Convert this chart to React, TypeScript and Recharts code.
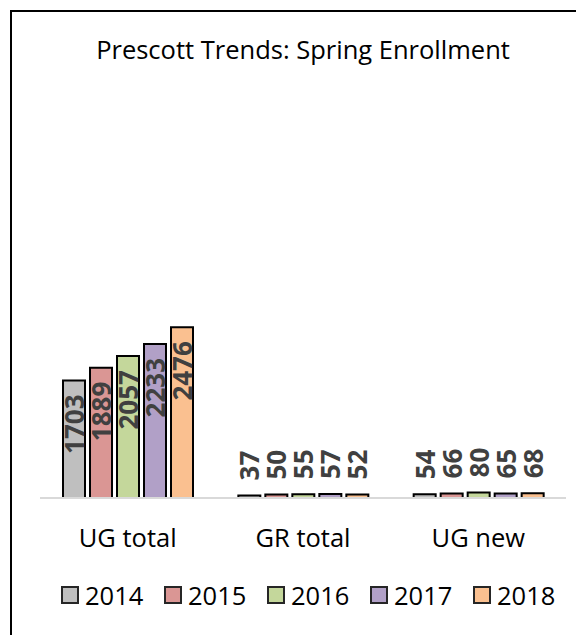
import { BarChart, Bar, XAxis, YAxis, LabelList } from "recharts";

const categories = ["UG total", "GR total", "UG new"];
const years = ["2014", "2015", "2016", "2017", "2018"];
const colors = ["#BFBFBF", "#DA9694", "#C4D79B", "#B1A0C7", "#FAC090"];

const v2014 = [1703, 37, 54];
const v2015 = [1889, 50, 66];
const v2016 = [2057, 55, 80];
const v2017 = [2233, 57, 65];
const v2018 = [2476, 52, 68];
const series = [v2014, v2015, v2016, v2017, v2018];

const data = categories.map((c, i) => {
  const row: any = { name: c };
  years.forEach((y, j) => {
    row[y] = series[j][i];
  });
  return row;
});

const FONT = "'Open Sans', sans-serif";

const ValueLabel = (props: any) => {
  const { x, y, width, value } = props;
  const cx = x + width / 2;
  const inside = value > 500;
  const ay = inside ? y + 14 : y - 15;
  return (
    <text
      x={cx}
      y={ay}
      transform={`rotate(-90, ${cx}, ${ay})`}
      textAnchor={inside ? "end" : "start"}
      dominantBaseline="central"
      fill="#404040"
      fontFamily={FONT}
      fontWeight={700}
      fontSize={26}
    >
      {value}
    </text>
  );
};

export default function App() {
  return (
    <div
      style={{
        position: "relative",
        width: 584,
        height: 635,
        margin: "-8px 0 0 -8px",
        overflow: "hidden",
        background: "#fff",
        fontFamily: FONT,
      }}
    >
      <div
        style={{
          position: "absolute",
          left: 10,
          top: 10,
          width: 700,
          height: 700,
          borderLeft: "2px solid #000",
          borderTop: "2px solid #000",
        }}
      />
      <div
        style={{
          position: "absolute",
          top: 32,
          left: 0,
          width: 606,
          textAlign: "center",
          fontSize: 25.5,
          color: "#000",
        }}
      >
        Prescott Trends: Spring Enrollment
      </div>
      <div style={{ position: "absolute", left: 0, top: 0 }}>
        <BarChart
          width={584}
          height={635}
          data={data}
          margin={{ top: 84, right: 18, left: 40, bottom: 87 }}
          barGap={5}
          barSize={22}
        >
          <XAxis
            dataKey="name"
            height={50}
            stroke="#D9D9D9"
            strokeWidth={2}
            tickLine={false}
            tick={{ fill: "#000", fontSize: 25.5, fontFamily: FONT }}
            tickMargin={25}
          />
          <YAxis hide domain={[0, 6000]} />
          {years.map((y, j) => (
            <Bar
              key={y}
              dataKey={y}
              fill={colors[j]}
              stroke="#000"
              strokeWidth={2}
              isAnimationActive={false}
            >
              <LabelList dataKey={y} content={ValueLabel} />
            </Bar>
          ))}
        </BarChart>
      </div>
      <div
        style={{
          position: "absolute",
          top: 578,
          left: 61,
          display: "flex",
          alignItems: "center",
          fontSize: 25.5,
          color: "#000",
        }}
      >
        {years.map((y, j) => (
          <div
            key={y}
            style={{ display: "flex", alignItems: "center", width: 103 }}
          >
            <span
              style={{
                display: "inline-block",
                width: 14,
                height: 14,
                background: colors[j],
                border: "2px solid #262626",
                marginRight: 6,
              }}
            />
            <span>{y}</span>
          </div>
        ))}
      </div>
    </div>
  );
}
